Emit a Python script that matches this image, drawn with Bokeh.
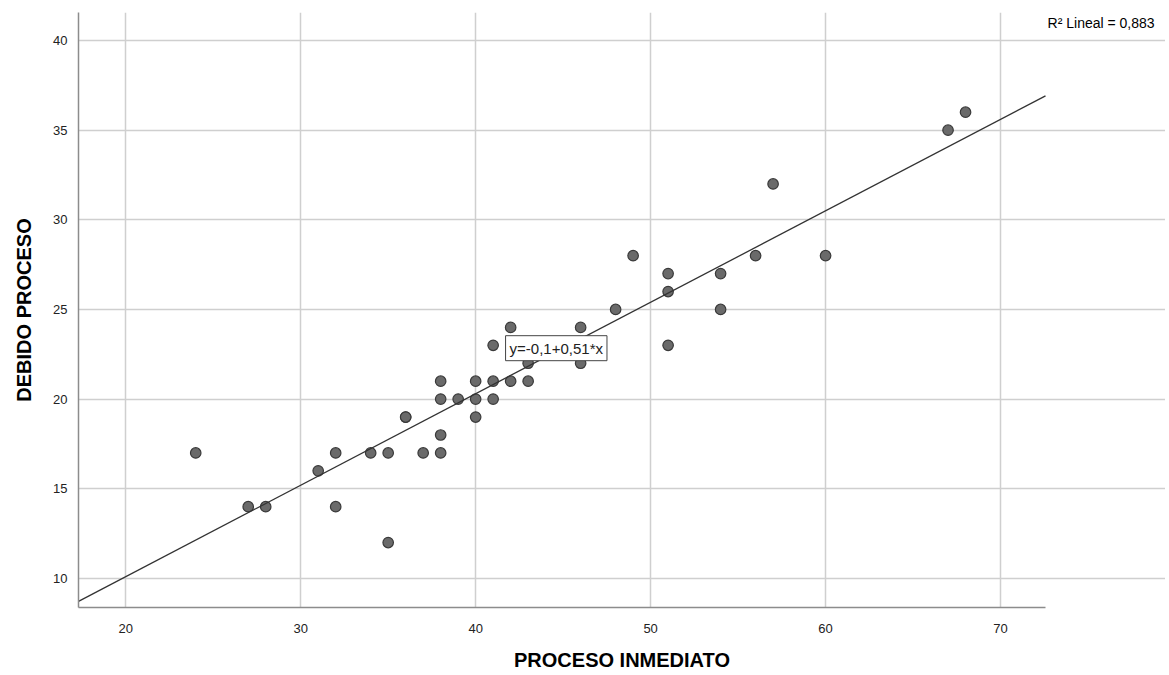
from bokeh.plotting import figure
from bokeh.models import Range1d, Label, FixedTicker, ColumnDataSource
from bokeh.embed import file_html
from bokeh.resources import INLINE

# Data
proceso_inmediato = [24, 27, 28, 31, 32, 32, 34, 35, 35, 36, 36, 37, 38, 38, 38, 38, 39,
                     40, 40, 40, 41, 41, 41, 42, 42, 43, 43, 46, 46, 48, 49, 51, 51, 51,
                     54, 54, 56, 57, 60, 67, 68]
debido_proceso = [17, 14, 14, 16, 17, 14, 17, 17, 12, 19, 19, 17, 21, 20, 18, 17, 20,
                  21, 20, 19, 23, 21, 20, 24, 21, 22, 21, 24, 22, 25, 28, 27, 26, 23,
                  27, 25, 28, 32, 28, 35, 36]
fit_intercept = -0.1
fit_slope = 0.51
r2_text = "R\u00b2 Lineal = 0,883"
eq_text = "y=-0,1+0,51*x"
x_ticks = [20, 30, 40, 50, 60, 70]
y_ticks = [10, 15, 20, 25, 30, 35, 40]

# axis extents of the plotted area
x_lo, x_hi = 17.3, 72.57
y_lo, y_hi = 8.38, 41.56

FONT = "Liberation Sans"

W, H = 1165, 673
left, right, top, bottom = 78, 120, 12, 66
px_per_x = (W - left - right) / (x_hi - x_lo)
x_view_end = x_hi + right / px_per_x   # extra room on the right for the R² note

p = figure(width=W, height=H, output_backend="svg", toolbar_location=None,
           x_range=Range1d(x_lo, x_view_end), y_range=Range1d(y_lo, y_hi),
           min_border_left=left, min_border_right=0, min_border_top=top,
           min_border_bottom=bottom)
p.outline_line_color = None

for ax in (p.xaxis[0], p.yaxis[0]):
    ax.axis_line_color = "#8c8c8c"
    ax.axis_line_width = 1.5
    ax.major_tick_line_color = None
    ax.minor_tick_line_color = None
    ax.major_label_text_font = FONT
    ax.major_label_text_font_size = "13px"
    ax.major_label_text_color = "#222222"
    ax.axis_label_text_font = FONT
    ax.axis_label_text_font_size = "20px"
    ax.axis_label_text_font_style = "bold"
    ax.axis_label_text_color = "#000000"

p.xaxis.bounds = (x_lo, x_hi)
p.xaxis.ticker = FixedTicker(ticks=x_ticks)
p.yaxis.ticker = FixedTicker(ticks=y_ticks)
p.xaxis.axis_label = "PROCESO INMEDIATO"
p.yaxis.axis_label = "DEBIDO PROCESO"
p.xaxis.major_label_standoff = 10
p.yaxis.major_label_standoff = 5
p.xaxis.axis_label_standoff = 13
p.yaxis.axis_label_standoff = 15

p.xgrid.ticker = FixedTicker(ticks=x_ticks)
p.ygrid.ticker = FixedTicker(ticks=y_ticks)
p.ygrid.bounds = (x_lo, x_hi)
p.grid.grid_line_color = "#cfcfcf"
p.grid.grid_line_width = 1.5

src = ColumnDataSource(dict(x=proceso_inmediato, y=debido_proceso))
p.scatter("x", "y", source=src, size=10.5, fill_color="#6a6a6a", line_color="#3a3a3a",
          line_width=1.2)

# fit line across the plotted x extent
fit_x = [x_lo, x_hi]
fit_y = [fit_intercept + fit_slope * v for v in fit_x]
p.line(fit_x, fit_y, line_color="#333333", line_width=1.3)

p.add_layout(Label(x=41.71, y=22.84, text=eq_text, text_font=FONT, text_font_size="15px",
                   text_color="#222222", text_baseline="middle", text_align="left",
                   background_fill_color="white", border_line_color="#444444",
                   border_line_width=1, padding=4))

p.add_layout(Label(x=72.69, y=41.0, text=r2_text, text_font=FONT, text_font_size="14px",
                   text_color="#000000", text_baseline="middle", text_align="left"))

open("out.html", "w").write(file_html(p, INLINE))
